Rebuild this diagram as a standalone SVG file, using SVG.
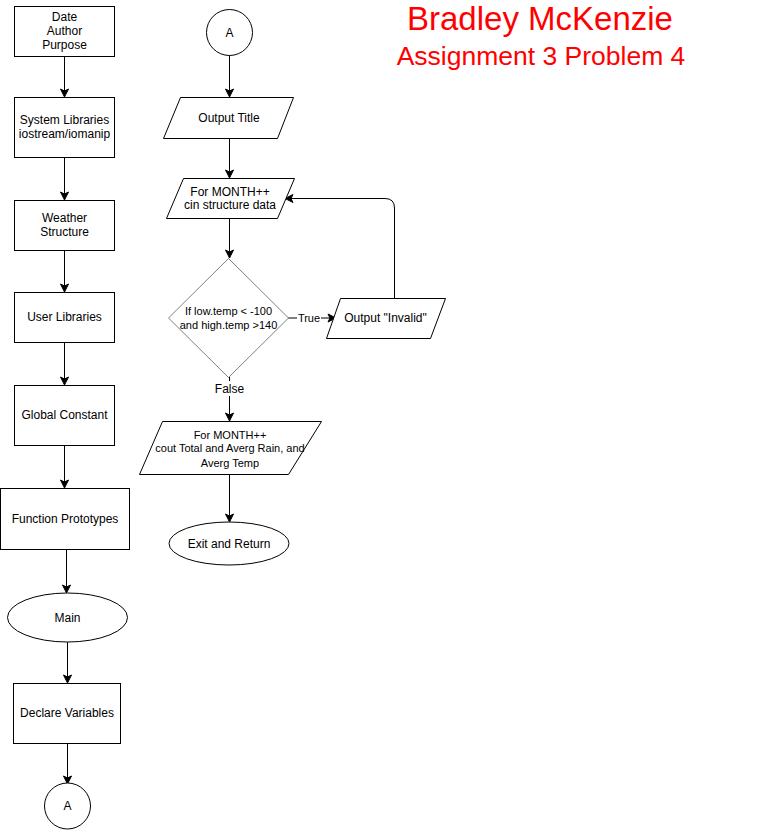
<svg xmlns="http://www.w3.org/2000/svg" width="760" height="830" viewBox="0 0 760 830">
<defs>
<style>
.n{fill:#fff;stroke:#000;stroke-width:1}
.d{fill:#fff;stroke:#808080;stroke-width:1}
.t{font-family:"Liberation Sans",Arial,sans-serif;font-size:12px;fill:#000;text-anchor:middle}
.s{font-size:11px}
.c{fill:none;stroke:#000;stroke-width:1}
.h{font-family:"Liberation Sans",Arial,sans-serif;fill:#ff0000;text-anchor:middle}
</style>
<marker id="ar" markerWidth="10" markerHeight="10" refX="8" refY="5" orient="auto" markerUnits="userSpaceOnUse">
<path d="M1,1 L9,5 L1,9 L3,5 Z" fill="#000" stroke="#000" stroke-width="1"/>
</marker>
</defs>
<rect width="760" height="830" fill="#fff"/>
<g id="connectors">
<line class="c" x1="64.5" y1="56" x2="64.5" y2="96" marker-end="url(#ar)"/>
<line class="c" x1="64.5" y1="157" x2="64.5" y2="199" marker-end="url(#ar)"/>
<line class="c" x1="64.5" y1="250" x2="64.5" y2="291" marker-end="url(#ar)"/>
<line class="c" x1="64.5" y1="342" x2="64.5" y2="384" marker-end="url(#ar)"/>
<line class="c" x1="64.5" y1="445" x2="64.5" y2="487" marker-end="url(#ar)"/>
<line class="c" x1="66.5" y1="549" x2="66.5" y2="592" marker-end="url(#ar)"/>
<line class="c" x1="67.5" y1="642" x2="67.5" y2="682" marker-end="url(#ar)"/>
<line class="c" x1="67.5" y1="743" x2="67.5" y2="783" marker-end="url(#ar)"/>
<line class="c" x1="229.5" y1="55" x2="229.5" y2="96" marker-end="url(#ar)"/>
<line class="c" x1="229.5" y1="138" x2="229.5" y2="177" marker-end="url(#ar)"/>
<line class="c" x1="229.5" y1="218" x2="229.5" y2="257" marker-end="url(#ar)"/>
<line class="c" x1="229.5" y1="377" x2="229.5" y2="381"/>
<line class="c" x1="229.5" y1="396" x2="229.5" y2="420" marker-end="url(#ar)"/>
<line class="c" x1="229.5" y1="474" x2="229.5" y2="521" marker-end="url(#ar)"/>
<line class="c" x1="288" y1="318" x2="297" y2="318"/>
<line class="c" x1="321" y1="318" x2="335" y2="318" marker-end="url(#ar)"/>
<path class="c" d="M394.5,298 L394.5,208 Q394.5,198.5 385,198.5 L286,198.5" marker-end="url(#ar)"/>
<text class="t s" x="309" y="322">True</text>
<text class="t" x="229.5" y="393">False</text>
</g>
<g id="n1"><rect class="n" x="14.5" y="6.5" width="100" height="50"/>
<text class="t" x="64.5" y="21">Date</text><text class="t" x="64.5" y="35">Author</text><text class="t" x="64.5" y="49">Purpose</text></g>
<g id="n2"><rect class="n" x="14.5" y="97.5" width="100" height="60"/>
<text class="t" x="64.5" y="124">System Libraries</text><text class="t" x="64.5" y="138">iostream/iomanip</text></g>
<g id="n3"><rect class="n" x="14.5" y="200.5" width="100" height="50"/>
<text class="t" x="64.5" y="222">Weather</text><text class="t" x="64.5" y="236">Structure</text></g>
<g id="n4"><rect class="n" x="14.5" y="292.5" width="100" height="50"/>
<text class="t" x="64.5" y="321">User Libraries</text></g>
<g id="n5"><rect class="n" x="14.5" y="385.5" width="100" height="60"/>
<text class="t" x="64.5" y="419">Global Constant</text></g>
<g id="n6"><rect class="n" x="0.5" y="488.5" width="129" height="61"/>
<text class="t" x="65" y="523">Function Prototypes</text></g>
<g id="n7"><ellipse class="n" cx="67.5" cy="617.5" rx="60" ry="24.5"/>
<text class="t" x="67.5" y="622">Main</text></g>
<g id="n8"><rect class="n" x="13.5" y="683.5" width="107" height="60"/>
<text class="t" x="67" y="717">Declare Variables</text></g>
<g id="n9"><circle class="n" cx="67.5" cy="806" r="23"/>
<text class="t" x="67.5" y="810">A</text></g>
<g id="n10"><circle class="n" cx="229.5" cy="32.5" r="23"/>
<text class="t" x="229.5" y="37">A</text></g>
<g id="n11"><polygon class="n" points="180.5,97.5 293.5,97.5 277.5,138.5 163.5,138.5"/>
<text class="t" x="229" y="122">Output Title</text></g>
<g id="n12"><polygon class="n" points="183.5,178.5 294.5,178.5 277.5,218.5 166.5,218.5"/>
<text class="t" x="230" y="196">For MONTH++</text><text class="t" x="230" y="209">cin structure data</text></g>
<g id="n13"><polygon class="d" points="228.5,258.5 288.5,318 228.5,377.5 168.5,318"/>
<text class="t s" x="228.5" y="315">If low.temp &lt; -100</text><text class="t s" x="228.5" y="329">and high.temp &gt;140</text></g>
<g id="n14"><polygon class="n" points="340.5,298.5 445.5,298.5 430.5,338.5 326.5,338.5"/>
<text class="t" x="385.5" y="322">Output "Invalid"</text></g>
<g id="n15"><polygon class="n" points="162.5,421.5 321.5,421.5 288.5,474.5 139.5,474.5"/>
<text class="t s" x="230" y="439">For MONTH++</text><text class="t s" x="230" y="452">cout Total and Averg Rain, and</text><text class="t s" x="230" y="467">Averg Temp</text></g>
<g id="n16"><ellipse class="n" cx="229" cy="543.5" rx="60" ry="21.5"/>
<text class="t" x="229" y="548">Exit and Return</text></g>
<g id="title">
<text class="h" x="540" y="30" font-size="33">Bradley McKenzie</text>
<text class="h" x="541" y="65" font-size="26.5">Assignment 3 Problem 4</text>
</g>
</svg>
